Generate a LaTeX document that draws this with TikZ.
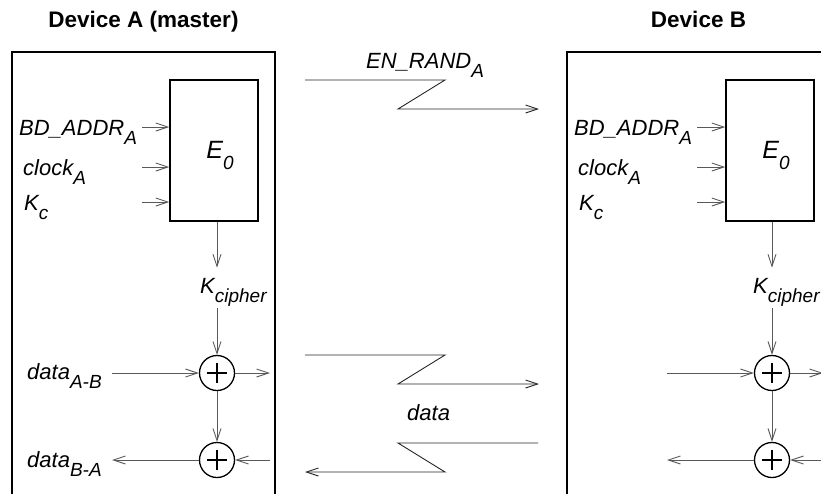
\documentclass[tikz,border=0pt]{standalone}
\usepackage{fontspec}
\setmainfont{Liberation Sans}
\usetikzlibrary{arrows.meta, positioning}
\newcommand{\lowsub}[1]{\raisebox{-9pt}{\fontsize{19}{22}\selectfont #1}}

\begin{document}
\begin{tikzpicture}[x=1pt, y=-1pt, node distance=23pt,
    devbox/.style={draw, line width=1.5pt, minimum width=263pt, minimum height=520pt, anchor=north},
    devtitle/.style={inner sep=0pt, text depth=0pt, font=\fontsize{22.5}{27}\selectfont\bfseries},
    e0box/.style={draw, line width=1.5pt, minimum width=88pt, minimum height=141pt, text height=25pt, text depth=10pt, font=\fontsize{25}{30}\selectfont\itshape},
    lbl/.style={inner sep=2pt, anchor=base west, font=\fontsize{22}{26}\selectfont\itshape},
    xor/.style={circle, draw, line width=1.3pt, minimum size=35pt, inner sep=0pt,
        path picture={\draw[line width=1.3pt] ([xshift=-10pt]path picture bounding box.center) -- ([xshift=10pt]path picture bounding box.center)
            ([yshift=-10pt]path picture bounding box.center) -- ([yshift=10pt]path picture bounding box.center);}},
    arr/.style={draw=black!65, line width=0.9pt, -{Straight Barb[length=12pt,width=8pt]}},
    link/.style={draw=black!85, line width=0.9pt, -{Straight Barb[length=12pt,width=8pt]}}]
    \clip (0,0) rectangle (821,493);

    % device A
    \node[devbox] (boxA) at (143.5,51) {};
    \node[devtitle, above=of boxA] (titleA) {Device A (master)};
    \node[e0box] (E0A) at (214,150.5) {\hspace*{12pt}E\raisebox{-11pt}{\fontsize{19}{22}\selectfont 0}};
    \node[lbl] (bdA) at (17,135) {BD\_ADDR\lowsub{A}};
    \node[lbl] (clkA) at (21,175) {clock\lowsub{A}};
    \node[lbl] (kA) at (22,210) {K\lowsub{c}};
    \coordinate (inA1) at (142,127);
    \coordinate (inA2) at (142,167);
    \coordinate (inA3) at (142,202);
    \draw[arr] (inA1) -- (inA1 -| E0A.west);
    \draw[arr] (inA2) -- (inA2 -| E0A.west);
    \draw[arr] (inA3) -- (inA3 -| E0A.west);
    \node[xor] (xorA1) at (217,373) {};
    \node[xor] (xorA2) at (217,460) {};
    \node[lbl] (kcA) at (198,293) {K\lowsub{cipher}};
    \node[lbl] (dabA) at (25,379) {data\lowsub{A-B}};
    \node[lbl] (dbaA) at (25,467) {data\lowsub{B-A}};
    \draw[arr, shorten >=8pt] (E0A.south -| xorA1) -- (kcA.north -| xorA1);
    \draw[arr] (kcA.south -| xorA1) -- (xorA1);
    \draw[arr] (xorA1) -- (xorA2);
    \coordinate (inA) at (112,373);
    \coordinate (outA) at (270,373);
    \coordinate (retA) at (270,460);
    \coordinate (backA) at (112,460);
    \draw[arr] (inA) -- (xorA1);
    \draw[arr] (xorA1) -- (outA);
    \draw[arr] (retA) -- (xorA2);
    \draw[arr] (xorA2) -- (backA);

    % radio links
    \node[lbl] (randlbl) at (364,68) {EN\_RAND\lowsub{A}};
    \coordinate (randS) at (305,80);
    \coordinate (randE) at (539,109);
    \draw[link] (randS) -- ++(140,0) -- ++(-47,29) -- (randE);
    \node[lbl] (datalbl) at (405,420) {data};
    \coordinate (fwdS) at (305,355);
    \coordinate (fwdE) at (539,384);
    \draw[link] (fwdS) -- ++(140,0) -- ++(-47,29) -- (fwdE);
    \coordinate (revS) at (538,443);
    \coordinate (revE) at (305,472);
    \draw[link] (revS) -- ++(-140,0) -- ++(47,29) -- (revE);

    % device B
    \node[devbox] (boxB) at (698.5,51) {};
    \node[devtitle, above=of boxB] (titleB) {Device B};
    \node[e0box] (E0B) at (770,150.5) {\hspace*{12pt}E\raisebox{-11pt}{\fontsize{19}{22}\selectfont 0}};
    \node[lbl] (bdB) at (572,135) {BD\_ADDR\lowsub{A}};
    \node[lbl] (clkB) at (576,175) {clock\lowsub{A}};
    \node[lbl] (kB) at (577,210) {K\lowsub{c}};
    \coordinate (inB1) at (697,127);
    \coordinate (inB2) at (697,167);
    \coordinate (inB3) at (697,202);
    \draw[arr] (inB1) -- (inB1 -| E0B.west);
    \draw[arr] (inB2) -- (inB2 -| E0B.west);
    \draw[arr] (inB3) -- (inB3 -| E0B.west);
    \node[xor] (xorB1) at (772,373) {};
    \node[xor] (xorB2) at (772,460) {};
    \node[lbl] (kcB) at (751,293) {K\lowsub{cipher}};
    \draw[arr, shorten >=8pt] (E0B.south -| xorB1) -- (kcB.north -| xorB1);
    \draw[arr] (kcB.south -| xorB1) -- (xorB1);
    \draw[arr] (xorB1) -- (xorB2);
    \coordinate (inB) at (667,373);
    \coordinate (outB) at (823,373);
    \coordinate (retB) at (830,460);
    \coordinate (backB) at (667,460);
    \draw[arr] (inB) -- (xorB1);
    \draw[arr] (xorB1) -- (outB);
    \draw[arr] (retB) -- (xorB2);
    \draw[arr] (xorB2) -- (backB);
\end{tikzpicture}
\end{document}
